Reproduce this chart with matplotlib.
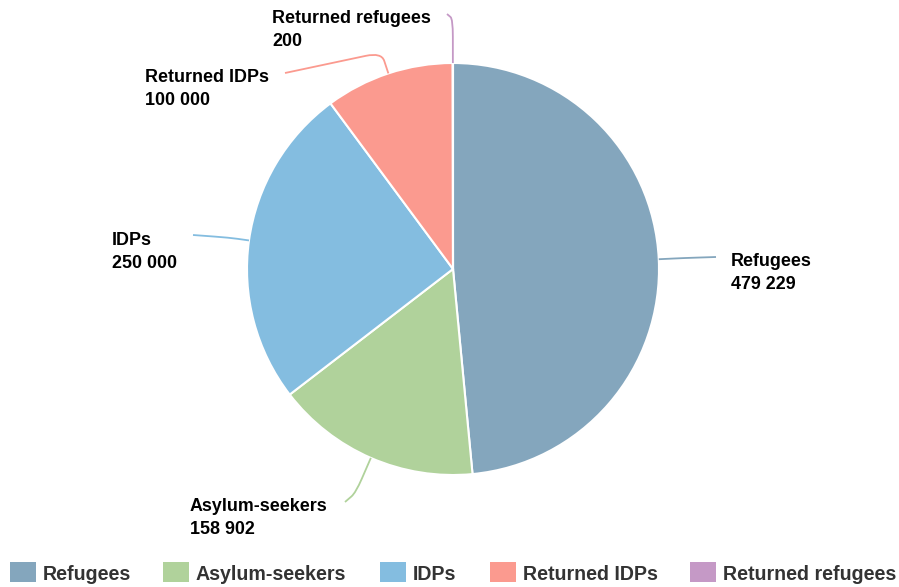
import numpy as np
import matplotlib.pyplot as plt
from matplotlib.path import Path
from matplotlib.patches import PathPatch, Rectangle

plt.rcParams['font.family'] = ['Liberation Sans', 'DejaVu Sans']

categories = ['Refugees', 'Asylum-seekers', 'IDPs', 'Returned IDPs', 'Returned refugees']
values = [479229, 158902, 250000, 100000, 200]
value_labels = ['479 229', '158 902', '250 000', '100 000', '200']
colors = ['#84a6bd', '#b0d29b', '#84bde0', '#fb9a8f', '#c599c6']

# layout in pixel coordinates (y grows downward)
cx, cy, r = 453, 269, 206
label_pos = [(731, 273), (190, 518), (112, 252), (145, 89), (272, 30)]
line_end = [(716, 257), (345, 502), (193, 235), (285, 73), (447, 14)]
elbow_len = [25, 38, 20, 22, 44]

fig = plt.figure(figsize=(8.99, 5.87), dpi=100)
ax = fig.add_axes([0, 0, 1, 1])

wedges, _ = ax.pie(values, colors=colors, center=(cx, cy), radius=r,
                   startangle=-90, counterclock=True,
                   wedgeprops=dict(edgecolor='white', linewidth=1.5))
ax.set_xlim(0, 899)
ax.set_ylim(587, 0)
ax.set_aspect('auto')
ax.axis('off')

for i, w in enumerate(wedges):
    mid = np.deg2rad((w.theta1 + w.theta2) / 2)
    d = np.array([np.cos(mid), np.sin(mid)])
    start = np.array([cx, cy]) + r * d
    elbow = start + elbow_len[i] * d
    end = np.array(line_end[i], dtype=float)
    # rounded corner at the elbow
    v1 = elbow - start
    v2 = end - elbow
    p1 = elbow - v1 * 0.4
    p2 = elbow + v2 * min(0.4, 16 / max(np.linalg.norm(v2), 1))
    path = Path([start, p1, elbow, p2, end],
                [Path.MOVETO, Path.LINETO, Path.CURVE3, Path.CURVE3, Path.LINETO])
    ax.add_patch(PathPatch(path, facecolor='none', edgecolor=colors[i], lw=1.3))
    ax.text(label_pos[i][0], label_pos[i][1], categories[i] + '\n' + value_labels[i],
            ha='left', va='center', fontsize=12.9, fontweight='bold',
            color='black', linespacing=1.45)

# legend drawn by hand
legend_sq = [10, 163, 380, 490, 690]
for i, x in enumerate(legend_sq):
    ax.add_patch(Rectangle((x, 562), 26, 20, facecolor=colors[i], edgecolor='none'))
    ax.text(x + 33, 574, categories[i], ha='left', va='center', fontsize=14.1,
            fontweight='bold', color='#333333')

fig.savefig('out.png', dpi=100)
